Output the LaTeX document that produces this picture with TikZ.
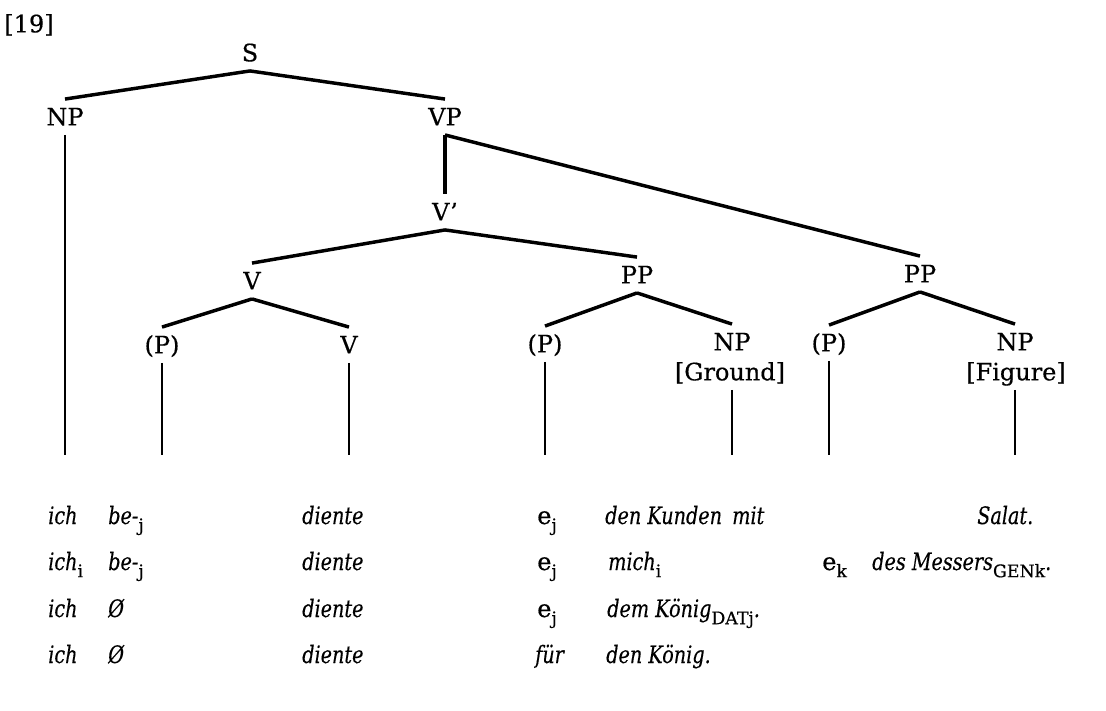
\documentclass[tikz,border=0pt]{standalone}
\usepackage{fontspec}
\setmainfont{DejaVu Serif}
\newfontfamily\catfont{DejaVu Serif}[FakeBold=0.5]
\newfontfamily\wordfont{DejaVu Serif}[FakeStretch=0.8, FakeBold=0.3]
\usepackage{tikz}
\usetikzlibrary{positioning,calc}
\newcommand{\idx}[1]{\raisebox{-0.3em}{\catfont\fontsize{13}{13}\selectfont\upshape #1}}

\begin{document}
\begin{tikzpicture}[
    x=0.75pt, y=-0.75pt,
    cat/.style={inner xsep=1pt, inner ysep=7pt, text height=12.5pt, text depth=0pt, font=\catfont\fontsize{18}{21}\selectfont},
    word/.style={anchor=base west, inner sep=0pt, font=\wordfont\fontsize{18}{21}\selectfont\itshape},
    branch/.style={line width=2.6pt, draw=black},
    leaf/.style={line width=2.2pt, draw=black}
]
    \useasboundingbox (0,0) rectangle (1106,710);

    % Example number
    \node[cat] (num) at (29, 24) {[19]};

    % Top levels
    \node[cat] (S) at (250, 53) {S};
    \node[cat] (NPs) at (65, 117) {NP};
    \node[cat] (VP) at (445, 117) {VP};
    \node[cat] (Vbar) at (445, 212) {V’};

    % Middle levels
    \node[cat] (Vc) at (252, 281) {V};
    \node[cat] (PPa) at (637, 275) {PP};
    \node[cat] (PPb) at (920, 274) {PP};

    % Lowest categories
    \node[cat] (Pa) at (162, 345) {(P)};
    \node[cat] (Vd) at (349, 345) {V};
    \node[cat] (Pb) at (545, 344) {(P)};
    \node[cat] (NPg) at (732, 342) {NP};
    \node[cat] (Gnd) at (730, 372) {[Ground]};
    \node[cat] (Pc) at (829, 343) {(P)};
    \node[cat] (NPf) at (1015, 342) {NP};
    \node[cat] (Fig) at (1016, 372) {[Figure]};

    \coordinate (base) at (0, 455);

    % Sentence 1
    \node[word] (a1) at (48, 524) {ich};
    \node[word] (a2) at (108, 524) {be-\idx{j}};
    \node[word] (a3) at (302, 524) {diente};
    \node[word] (a4) at (537, 524) {\catfont\upshape e\idx{j}};
    \node[word] (a5) at (605, 524) {den Kunden};
    \node[word] (a6) at (732, 524) {mit};
    \node[word] (a7) at (977, 524) {Salat.};

    % Sentence 2
    \node[word] (b1) at (48, 570) {ich\idx{i}};
    \node[word] (b2) at (108, 570) {be-\idx{j}};
    \node[word] (b3) at (302, 570) {diente};
    \node[word] (b4) at (537, 570) {\catfont\upshape e\idx{j}};
    \node[word] (b5) at (608, 570) {mich\idx{i}};
    \node[word] (b6) at (822, 570) {\catfont\upshape e\idx{k}};
    \node[word] (b7) at (872, 570) {des Messers\idx{GENk}.};

    % Sentence 3
    \node[word] (c1) at (48, 617) {ich};
    \node[word] (c2) at (108, 617) {Ø};
    \node[word] (c3) at (302, 617) {diente};
    \node[word] (c4) at (537, 617) {\catfont\upshape e\idx{j}};
    \node[word] (c5) at (607, 617) {dem König\idx{DATj}.};

    % Sentence 4
    \node[word] (d1) at (48, 663) {ich};
    \node[word] (d2) at (108, 663) {Ø};
    \node[word] (d3) at (302, 663) {diente};
    \node[word] (d4) at (535, 663) {für};
    \node[word] (d5) at (606, 663) {den König.};

    % Branches
    \draw[branch] (S.south) -- (NPs.north);
    \draw[branch] (S.south) -- (VP.north);
    \draw[branch] (VP.south) -- (Vbar.north);
    \draw[branch] (VP.south) -- (PPb.north);
    \draw[branch] (Vbar.south) -- (Vc.north);
    \draw[branch] (Vbar.south) -- (PPa.north);
    \draw[branch] (Vc.south) -- (Pa.north);
    \draw[branch] (Vc.south) -- (Vd.north);
    \draw[branch] (PPa.south) -- (Pb.north);
    \draw[branch] (PPa.south) -- (NPg.north);
    \draw[branch] (PPb.south) -- (Pc.north);
    \draw[branch] (PPb.south) -- (NPf.north);

    % Leaves
    \draw[leaf] (NPs.south) -- (NPs.south |- base);
    \draw[leaf] (Pa.south) -- (Pa.south |- base);
    \draw[leaf] (Vd.south) -- (Vd.south |- base);
    \draw[leaf] (Pb.south) -- (Pb.south |- base);
    \draw[leaf] (NPg |- Gnd.south) -- (NPg |- base);
    \draw[leaf] (Pc.south) -- (Pc.south |- base);
    \draw[leaf] (NPf |- Fig.south) -- (NPf |- base);

\end{tikzpicture}
\end{document}
